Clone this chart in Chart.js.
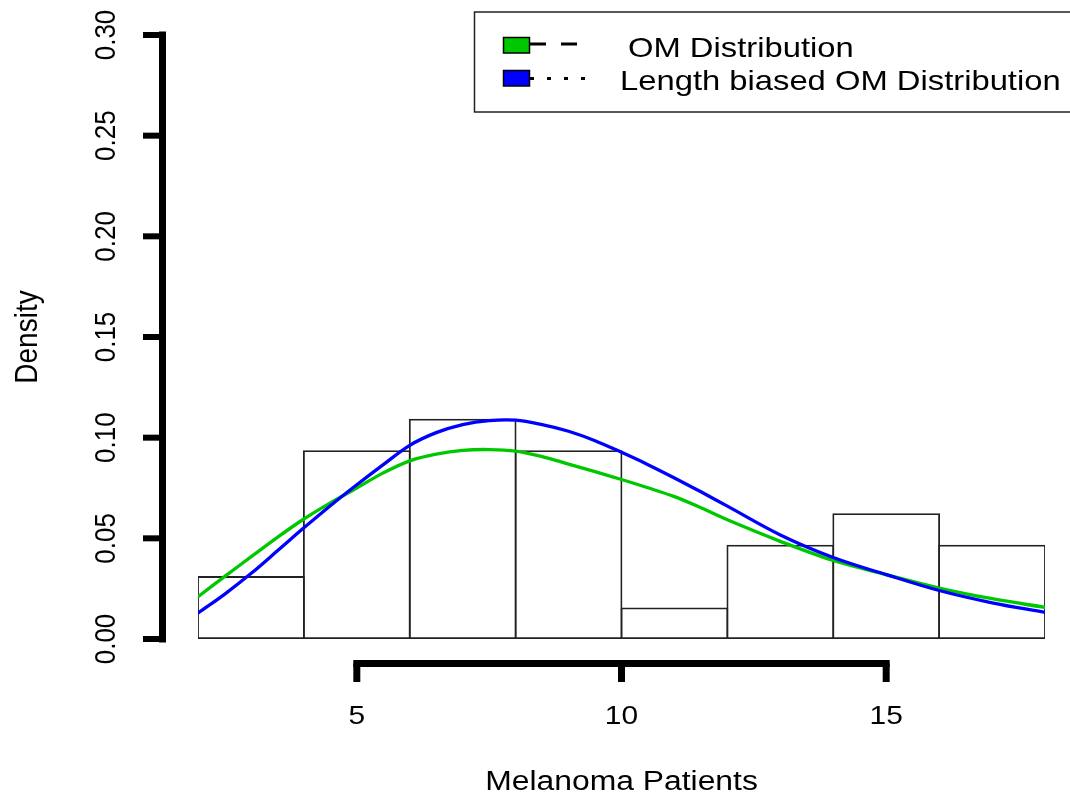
<!DOCTYPE html>
<html>
<head>
<meta charset="utf-8">
<script src="https://cdn.jsdelivr.net/npm/chart.js@4.4.1/dist/chart.umd.min.js"></script>
<style>
  html, body { margin: 0; padding: 0; background: #ffffff; }
  #wrap { width: 1070px; height: 794px; position: relative; }
</style>
</head>
<body>
<div id="wrap"><canvas id="c" width="1070" height="794"></canvas></div>
<script>
// ---- data ----
const binCenters = [3, 5, 7, 9, 11, 13, 15, 17];
const binDensity = [0.03125, 0.09375, 0.109375, 0.09375, 0.015625, 0.046875, 0.0625, 0.046875];

const curveX = [2, 2.5, 3, 3.5, 4, 4.5, 5, 5.5, 6, 6.5, 7, 7.5, 8, 8.5, 9, 9.5, 10, 10.5, 11, 11.5, 12, 13, 14, 15, 16, 17, 18];
const omDensity = [0.021, 0.031, 0.0408, 0.0505, 0.0596, 0.0676, 0.075, 0.0825, 0.0885, 0.0918, 0.0937, 0.0941, 0.0933, 0.0906, 0.0869, 0.0831, 0.0792, 0.0751, 0.0707, 0.0652, 0.0592, 0.0485, 0.039, 0.032, 0.0253, 0.020, 0.0157];
const lbDensity = [0.0129, 0.0222, 0.0325, 0.0438, 0.0552, 0.0662, 0.0766, 0.0866, 0.0962, 0.1025, 0.1065, 0.1085, 0.1087, 0.1065, 0.1032, 0.0985, 0.0927, 0.0866, 0.080, 0.0731, 0.066, 0.0517, 0.0405, 0.032, 0.0241, 0.018, 0.0132];

const xTicks = [5, 10, 15];
const xTickLabels = ['5', '10', '15'];
const yTicks = [0, 0.05, 0.10, 0.15, 0.20, 0.25, 0.30];
const yTickLabels = ['0.00', '0.05', '0.10', '0.15', '0.20', '0.25', '0.30'];

const xTitle = 'Melanoma Patients';
const yTitle = 'Density';
const omLabel = 'OM Distribution';
const lbLabel = 'Length biased OM Distribution';

const FONT = '"Liberation Sans", Arial, sans-serif';

function stretchedText(ctx, text, x, y, size, sx, align, rotate) {
  ctx.save();
  ctx.translate(x, y);
  if (rotate) {
    ctx.rotate(-Math.PI / 2);
    ctx.scale(1, sx);
  } else {
    ctx.scale(sx, 1);
  }
  ctx.font = size + 'px ' + FONT;
  ctx.textAlign = align;
  ctx.textBaseline = 'alphabetic';
  ctx.fillStyle = '#000';
  ctx.fillText(text, 0, 0);
  ctx.restore();
}

const rAxes = {
  id: 'rAxes',
  afterDraw(chart) {
    const ctx = chart.ctx;
    const xs = chart.scales.x, ys = chart.scales.y;
    ctx.save();
    ctx.strokeStyle = '#000';
    ctx.lineCap = 'square';

    // y axis
    const axX = 162.5;
    ctx.lineWidth = 7;
    ctx.beginPath();
    ctx.moveTo(axX, ys.getPixelForValue(yTicks[yTicks.length - 1]));
    ctx.lineTo(axX, ys.getPixelForValue(yTicks[0]));
    ctx.stroke();
    ctx.lineWidth = 6;
    ctx.lineCap = 'butt';
    yTicks.forEach((v, i) => {
      const py = ys.getPixelForValue(v);
      ctx.beginPath();
      ctx.moveTo(143, py);
      ctx.lineTo(axX, py);
      ctx.stroke();
      stretchedText(ctx, yTickLabels[i], 115, py, 26, 1.15, 'center', true);
    });

    // x axis
    const axY = 663.5;
    ctx.lineWidth = 7;
    ctx.lineCap = 'square';
    ctx.beginPath();
    ctx.moveTo(xs.getPixelForValue(xTicks[0]), axY);
    ctx.lineTo(xs.getPixelForValue(xTicks[xTicks.length - 1]), axY);
    ctx.stroke();
    ctx.lineCap = 'butt';
    xTicks.forEach((v, i) => {
      const px = xs.getPixelForValue(v);
      ctx.beginPath();
      ctx.moveTo(px, axY);
      ctx.lineTo(px, 682);
      ctx.stroke();
      stretchedText(ctx, xTickLabels[i], px, 724, 26, 1.15, 'center', false);
    });

    // titles
    const cx = (chart.chartArea.left + chart.chartArea.right) / 2;
    const cy = (chart.chartArea.top + chart.chartArea.bottom) / 2;
    stretchedText(ctx, xTitle, cx, 790, 27, 1.18, 'center', false);
    stretchedText(ctx, yTitle, 37, cy, 28, 1.12, 'center', true);

    // legend
    ctx.lineWidth = 1.5;
    ctx.strokeStyle = '#222';
    ctx.strokeRect(474.5, 12, 620, 100);

    const ds = chart.data.datasets;
    const entries = [
      { ds: ds[0], sqY: 37.5, lineY: 44, textX: 628, base: 57, dash: [16, 15] },
      { ds: ds[1], sqY: 70.5, lineY: 78.5, textX: 620, base: 89.5, dash: [4, 13] }
    ];
    entries.forEach(e => {
      ctx.fillStyle = e.ds.borderColor;
      ctx.fillRect(503.5, e.sqY, 26, 15.5);
      ctx.lineWidth = 1.5;
      ctx.strokeStyle = '#000';
      ctx.strokeRect(503.5, e.sqY, 26, 15.5);
      ctx.lineWidth = 3;
      ctx.setLineDash(e.dash);
      ctx.beginPath();
      ctx.moveTo(530, e.lineY);
      ctx.lineTo(585, e.lineY);
      ctx.stroke();
      ctx.setLineDash([]);
      stretchedText(ctx, e.ds.label, e.textX, e.base, 28, 1.17, 'left', false);
    });
    ctx.restore();
  }
};

const ctx = document.getElementById('c').getContext('2d');
new Chart(ctx, {
  type: 'bar',
  data: {
    datasets: [
      {
        type: 'line',
        label: omLabel,
        data: curveX.map((x, i) => ({ x: x, y: omDensity[i] })),
        borderColor: '#00C800',
        borderWidth: 3.3,
        pointRadius: 0,
        tension: 0.35,
        fill: false,
        order: 1
      },
      {
        type: 'line',
        label: lbLabel,
        data: curveX.map((x, i) => ({ x: x, y: lbDensity[i] })),
        borderColor: '#0000FF',
        borderWidth: 3.3,
        pointRadius: 0,
        tension: 0.35,
        fill: false,
        order: 0
      },
      {
        type: 'bar',
        label: 'hist',
        data: binCenters.map((x, i) => ({ x: x, y: binDensity[i] })),
        backgroundColor: 'rgba(255,255,255,0)',
        borderColor: '#222',
        borderWidth: 1.8,
        borderSkipped: false,
        barPercentage: 1.017,
        categoryPercentage: 1,
        order: 2
      }
    ]
  },
  options: {
    responsive: false,
    animation: false,
    devicePixelRatio: 1,
    layout: { padding: { left: 198, right: 25, top: 35, bottom: 155 } },
    plugins: { legend: { display: false }, tooltip: { enabled: false }, title: { display: false } },
    scales: {
      x: { type: 'linear', min: 2, max: 18, offset: false, display: false },
      y: { type: 'linear', min: 0, max: 0.3, display: false }
    }
  },
  plugins: [rAxes]
});
</script>
</body>
</html>
